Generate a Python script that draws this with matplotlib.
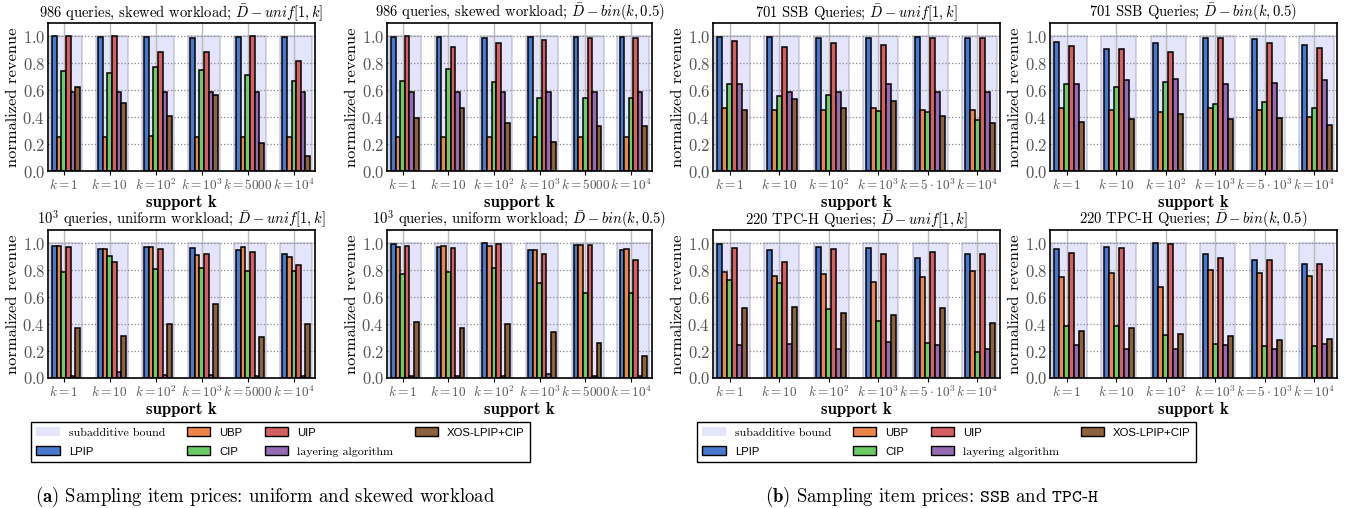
"""Normalized revenue of pricing algorithms: 2x4 grouped bar panels."""

import matplotlib
matplotlib.use("Agg")
import matplotlib.pyplot as plt
from matplotlib.patches import Patch
import numpy as np

plt.rcParams.update({
    "font.family": ["cmr10", "DejaVu Serif"],
    "mathtext.fontset": "cm",
    "axes.formatter.use_mathtext": True,
    "axes.unicode_minus": False,
})

# ── data ──────────────────────────────────────────────
METHODS = ["LPIP", "UBP", "CIP", "UIP", "layering algorithm", "XOS-LPIP+CIP"]
COLORS = ["#4878d0", "#ee854a", "#6acc64", "#d65f5f", "#956cb4", "#8c613c"]
BOUND_COLOR = "#e4e4fa"

K_LABELS_A = [r"$k=1$", r"$k=10$", r"$k=10^2$", r"$k=10^3$", r"$k=5000$", r"$k=10^4$"]
K_LABELS_B = [r"$k=1$", r"$k=10$", r"$k=10^2$", r"$k=10^3$", r"$k=5\cdot10^3$", r"$k=10^4$"]
SUBADDITIVE = [1.0, 1.0, 1.0, 1.0, 1.0, 1.0]

# rows: LPIP, UBP, CIP, UIP, layering, XOS-LPIP+CIP
SKEWED_UNIF = [
    [1.0, 0.995, 0.995, 0.99, 0.995, 0.995],
    [0.255, 0.255, 0.26, 0.255, 0.255, 0.255],
    [0.74, 0.728, 0.77, 0.75, 0.71, 0.67],
    [1.0, 1.0, 0.888, 0.888, 1.0, 0.816],
    [0.587, 0.587, 0.587, 0.587, 0.587, 0.587],
    [0.624, 0.508, 0.41, 0.566, 0.21, 0.11],
]
SKEWED_BIN = [
    [0.995, 0.995, 0.99, 0.995, 0.995, 0.993],
    [0.255, 0.255, 0.255, 0.255, 0.255, 0.255],
    [0.667, 0.757, 0.665, 0.545, 0.545, 0.545],
    [1.0, 0.925, 0.955, 0.975, 0.985, 0.985],
    [0.587, 0.587, 0.587, 0.587, 0.587, 0.587],
    [0.392, 0.466, 0.357, 0.218, 0.338, 0.338],
]
UNIFORM_UNIF = [
    [0.98, 0.96, 0.975, 0.965, 0.95, 0.92],
    [0.98, 0.96, 0.975, 0.915, 0.975, 0.90],
    [0.785, 0.905, 0.81, 0.82, 0.795, 0.795],
    [0.975, 0.86, 0.96, 0.92, 0.94, 0.84],
    [0.015, 0.045, 0.02, 0.025, 0.015, 0.015],
    [0.375, 0.31, 0.40, 0.55, 0.305, 0.405],
]
UNIFORM_BIN = [
    [0.995, 0.97, 1.0, 0.95, 0.985, 0.955],
    [0.975, 0.98, 0.98, 0.95, 0.985, 0.96],
    [0.775, 0.785, 0.82, 0.705, 0.635, 0.635],
    [0.98, 0.965, 0.995, 0.925, 0.985, 0.88],
    [0.015, 0.015, 0.015, 0.03, 0.015, 0.015],
    [0.415, 0.375, 0.405, 0.345, 0.26, 0.16],
]
SSB_UNIF = [
    [0.995, 0.995, 0.99, 0.99, 0.995, 0.99],
    [0.465, 0.45, 0.45, 0.47, 0.45, 0.45],
    [0.65, 0.56, 0.565, 0.445, 0.44, 0.38],
    [0.965, 0.92, 0.955, 0.935, 0.985, 0.985],
    [0.645, 0.587, 0.587, 0.645, 0.587, 0.587],
    [0.455, 0.535, 0.465, 0.52, 0.41, 0.355],
]
SSB_BIN = [
    [0.96, 0.91, 0.95, 0.99, 0.98, 0.935],
    [0.465, 0.45, 0.435, 0.465, 0.45, 0.40],
    [0.645, 0.625, 0.665, 0.495, 0.51, 0.465],
    [0.93, 0.905, 0.885, 0.985, 0.95, 0.915],
    [0.645, 0.68, 0.685, 0.645, 0.655, 0.68],
    [0.365, 0.385, 0.42, 0.385, 0.395, 0.34],
]
TPCH_UNIF = [
    [0.995, 0.955, 0.97, 0.965, 0.89, 0.92],
    [0.785, 0.755, 0.775, 0.71, 0.75, 0.795],
    [0.725, 0.705, 0.51, 0.42, 0.26, 0.19],
    [0.965, 0.86, 0.96, 0.92, 0.935, 0.92],
    [0.245, 0.255, 0.215, 0.265, 0.245, 0.215],
    [0.52, 0.53, 0.48, 0.47, 0.52, 0.41],
]
TPCH_BIN = [
    [0.96, 0.97, 1.0, 0.92, 0.88, 0.85],
    [0.75, 0.78, 0.68, 0.80, 0.78, 0.76],
    [0.385, 0.385, 0.32, 0.255, 0.235, 0.235],
    [0.93, 0.965, 0.995, 0.895, 0.88, 0.85],
    [0.245, 0.215, 0.215, 0.245, 0.215, 0.25],
    [0.35, 0.37, 0.33, 0.31, 0.28, 0.29],
]

UNIF = r"$\bar{D} - unif[1,k]$"
BIN = r"$\bar{D} - bin(k,0.5)$"

PANELS = [
    # (data, title, tick labels, row, col)
    (SKEWED_UNIF, "986 queries, skewed workload; " + UNIF, K_LABELS_A, 0, 0),
    (SKEWED_BIN, "986 queries, skewed workload; " + BIN, K_LABELS_A, 0, 1),
    (SSB_UNIF, "701 SSB Queries; " + UNIF, K_LABELS_B, 0, 2),
    (SSB_BIN, "701 SSB Queries; " + BIN, K_LABELS_B, 0, 3),
    (UNIFORM_UNIF, r"$10^3$ queries, uniform workload; " + UNIF, K_LABELS_A, 1, 0),
    (UNIFORM_BIN, r"$10^3$ queries, uniform workload; " + BIN, K_LABELS_A, 1, 1),
    (TPCH_UNIF, "220 TPC-H Queries; " + UNIF, K_LABELS_B, 1, 2),
    (TPCH_BIN, "220 TPC-H Queries; " + BIN, K_LABELS_B, 1, 3),
]

# ── layout (pixels in a 1348x508 canvas) ──────────────────
W, H = 1348, 508
COL_X = [(48, 315), (387, 652), (713, 1000), (1050, 1337)]
ROW_Y = [(23, 171), (230, 378)]

fig = plt.figure(figsize=(W / 100, H / 100), dpi=100)


def draw_panel(ax, data, title, labels):
    x = np.arange(len(labels))
    w = 0.1
    ax.bar(x + 0.05, SUBADDITIVE, width=0.7, color=BOUND_COLOR,
           edgecolor=(0.55, 0.55, 0.65, 0.4), linewidth=1.2, zorder=0.2)
    for j, vals in enumerate(data):
        ax.bar(x + (j - 2) * w, vals, width=w, color=COLORS[j],
               edgecolor="black", linewidth=1.1, zorder=2)

    ax.set_xlim(-0.34, 5.46)
    ax.set_ylim(0, 1.1)
    ax.set_axisbelow(True)
    ax.yaxis.grid(True, linestyle=":", color="#888888", linewidth=0.9)
    ax.xaxis.grid(True, linestyle="-", color="#bbbbbb", linewidth=1.0)

    ax.set_xticks(x)
    ax.set_xticklabels(labels, fontsize=9.5, color="#555555")
    yt = np.arange(0, 1.01, 0.2)
    ax.set_yticks(yt)
    ax.set_yticklabels([rf"${v:.1f}$" for v in yt], fontsize=12, color="#555555")
    ax.tick_params(axis="x", length=3, pad=2)
    ax.tick_params(axis="y", length=0, pad=2)

    for s in ax.spines.values():
        s.set_color("black")
        s.set_linewidth(1.2)

    ax.set_title(title, fontsize=10.5, pad=2)
    ax.set_ylabel("normalized revenue", fontsize=11.8, labelpad=2)
    ax.set_xlabel("support k", fontsize=12, family="cmb10", labelpad=1)


for data, title, labels, r, c in PANELS:
    x0, x1 = COL_X[c]
    y0, y1 = ROW_Y[r]
    ax = fig.add_axes([x0 / W, 1 - y1 / H, (x1 - x0) / W, (y1 - y0) / H])
    draw_panel(ax, data, title, labels)

# ── legends ────────────────────────────────────────────
handles = [Patch(facecolor=BOUND_COLOR, edgecolor="none")]
handles += [Patch(facecolor=c, edgecolor="black", linewidth=1.0) for c in COLORS]
leg_labels = ["subadditive bound"] + METHODS
SERIF_LABELS = {"subadditive bound", "layering algorithm"}

for lx0 in [31, 697]:
    leg = fig.legend(handles, leg_labels, ncol=4, loc="upper left",
                     bbox_to_anchor=(lx0 / W, 1 - 422 / H),
                     fontsize=8.6, frameon=True, fancybox=False,
                     edgecolor="black", framealpha=1, handlelength=1.95,
                     handleheight=0.75, borderpad=0.45, labelspacing=0.68,
                     handletextpad=0.75, columnspacing=1.85, borderaxespad=0)
    leg.get_frame().set_linewidth(1.0)
    for t in leg.get_texts():
        if t.get_text() not in SERIF_LABELS:
            t.set_family("Liberation Sans")
            t.set_fontsize(8.2)

# ── captions ──────────────────────────────────────────
fig.text(265 / W, 1 - 497 / H,
         r"$\mathbf{(a)}$ Sampling item prices: uniform and skewed workload",
         ha="center", va="center", fontsize=13.5)
fig.text(932 / W, 1 - 497 / H,
         r"$\mathbf{(b)}$ Sampling item prices: $\mathtt{SSB}$ and $\mathtt{TPC}$-$\mathtt{H}$",
         ha="center", va="center", fontsize=13.5)

fig.savefig("out.png", dpi=100)
